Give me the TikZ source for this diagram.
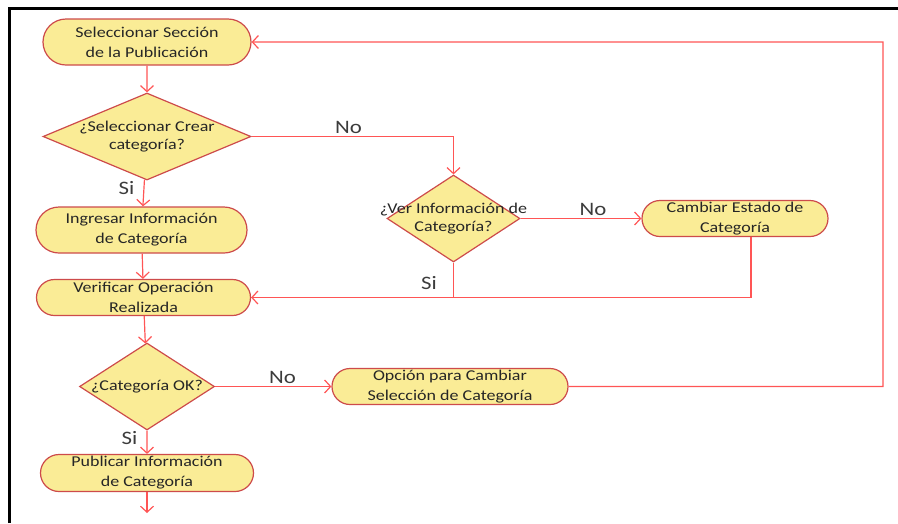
\documentclass[tikz,border=0pt]{standalone}
\usepackage{fontspec}
\setmainfont{Carlito}[FakeStretch=1.2]
\usetikzlibrary{positioning}
\usetikzlibrary{shapes.geometric, shapes.misc}
\usetikzlibrary{arrows.meta}
\definecolor{boxfill}{RGB}{250,236,150}
\definecolor{boxline}{RGB}{205,75,75}
\definecolor{flowline}{RGB}{255,85,85}
\definecolor{answergray}{RGB}{60,60,60}
\newcommand{\diamtext}[1]{\makebox[0pt]{#1}}

\begin{document}
\begin{tikzpicture}[
            x = 1pt, y = -1pt, % pixel units, y down
            > = {Straight Barb[length=6pt,width=13pt]}, % arrow head style
            on grid,
            flow/.style = {draw = flowline, line width = 1.2pt},
            proc/.style = {rounded rectangle, draw = boxline, line width = 1.2pt,
                fill = boxfill, text = black!85, align = center, inner sep = 0pt,
                font = \fontsize{15}{20}\selectfont, minimum height = 36pt},
            decide/.style = {diamond, draw = boxline, line width = 1.2pt,
                fill = boxfill, text = black!85, align = center, inner sep = 0pt,
                font = \fontsize{15}{18}\selectfont, minimum height = 87pt},
            answer/.style = {text = answergray, font = \fontsize{19}{20}\selectfont, inner sep = 1pt}
            ]

        \useasboundingbox (0,0) rectangle (898,523);

        % frame
        \draw[line width = 3pt] (9,523) -- (9,8) -- (898,8);

	% main column
        \node[proc, minimum width = 208pt, minimum height = 46pt] (S1) at (147,42) {Seleccionar Sección\\de la Publicación};
        \node[decide, minimum width = 208pt] (D1) [below = 94.5pt of S1] {\diamtext{¿Seleccionar Crear}\\\diamtext{categoría?}};
        \node[proc, minimum width = 211pt, minimum height = 46pt] (S2) [below = 93.5pt of D1, xshift = -5.5pt] {Ingresar Información\\de Categoría};
        \node[proc, minimum width = 214pt] (S3) [below = 67.5pt of S2, xshift = 2pt] {Verificar Operación\\Realizada};
        \node[decide, minimum width = 135pt] (D3) [below = 89pt of S3, xshift = 3.5pt] {\diamtext{¿Categoría OK?}};
        \node[proc, minimum width = 213pt, minimum height = 37pt] (S6) [below = 86.5pt of D3] {Publicar Información\\de Categoría};
        \coordinate[below = 40pt of S6] (End);

	% right side
        \node[decide, minimum width = 133pt] (D2) at (453.5,218.5) {\diamtext{¿Ver Información de}\\\diamtext{Categoría?}};
        \node[proc, minimum width = 186pt] (S4) at (735,218.5) {Cambiar Estado de\\Categoría};
        \node[proc, minimum width = 236pt] (S5) [right = 303pt of D3] {Opción para Cambiar\\Selección de Categoría};
        \coordinate[right = 433pt of S5] (R);

	% straight links
        \path[flow,->] (S1) edge (D1);
        \path[flow,->] (D1) edge node[answer, pos = 0.3, left = 8pt] {Si} (S2);
        \path[flow,->] (S2) edge (S3);
        \path[flow,->] (S3) edge (D3);
        \path[flow,->] (D3) edge node[answer, pos = 0.3, left = 8pt] {Si} (S6);
        \path[flow,->] (S6) edge (End);
        \path[flow,->] (D2) edge node[answer, pos = 0.6, above = 1pt] {No} (S4);
        \path[flow,->] (D3) edge node[answer, pos = 0.58, above = 1pt] {No} (S5);

	% elbow links
        \draw[flow,->] (D1) -| node[answer, pos = 0.24, above = 1pt] {No} (D2);
        \draw[flow] ([xshift = 16pt]S4.south) |- (S3);
        \draw[flow,->] (D2) |- node[answer, pos = 0.29, left = 15pt] {Si} (S3);
        \draw[flow,->] (S5) -- (R) |- (S1);

\end{tikzpicture}
\end{document}
